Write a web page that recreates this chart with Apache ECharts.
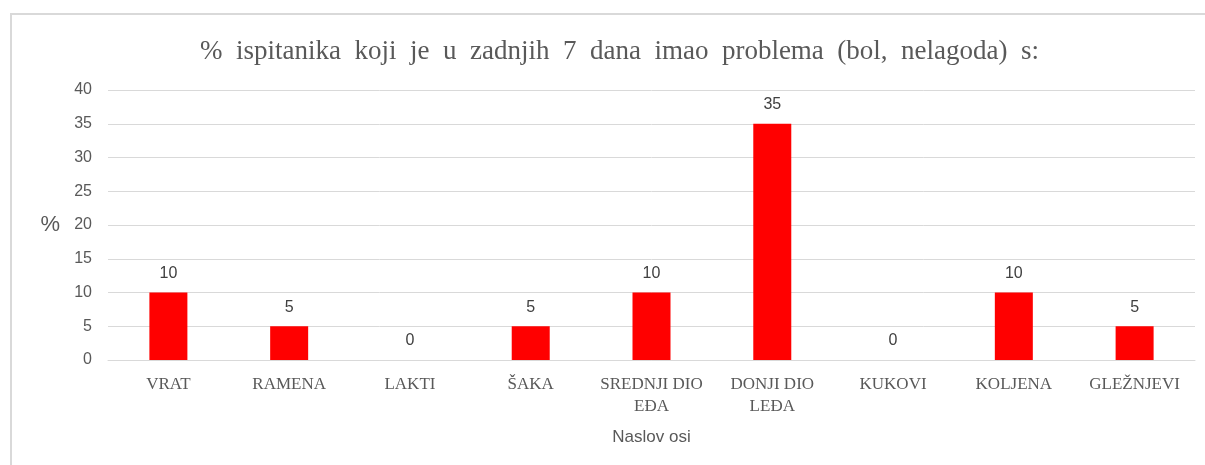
<!DOCTYPE html>
<html>
<head>
<meta charset="utf-8">
<script src="https://cdn.jsdelivr.net/npm/echarts@6/dist/echarts.min.js"></script>
<style>
  html, body { margin: 0; padding: 0; background: #fff; }
  #frame { position: absolute; left: 10px; top: 13px; width: 1200px; height: 460px;
           border: 2px solid #d9d9d9; box-sizing: border-box; }
  #chart { position: absolute; left: 0; top: 0; width: 1205px; height: 465px; }
</style>
</head>
<body>
<div id="frame"></div>
<div id="chart"></div>
<script>
const titleWords = ["%", "ispitanika", "koji", "je", "u", "zadnjih", "7", "dana", "imao", "problema", "(bol,", "nelagoda)", "s:"];
const categories = ["VRAT", "RAMENA", "LAKTI", "ŠAKA", "SREDNJI DIO\nEĐA", "DONJI DIO\nLEĐA", "KUKOVI", "KOLJENA", "GLEŽNJEVI"];
const values = [10, 5, 0, 5, 10, 35, 0, 10, 5];

const myChart = echarts.init(document.getElementById("chart"));

const option = {
  animation: false,
  title: {
    // wide word gaps like the original
    text: titleWords.join("  "),
    left: 195,
    top: 33,
    textStyle: { fontFamily: "Liberation Serif", fontWeight: "normal", fontSize: 27, color: "#595959" },
  },
  grid: { left: 108, right: 10, top: 90, bottom: 105 },
  xAxis: {
    type: "category",
    data: categories,
    name: "Naslov osi",
    nameLocation: "middle",
    nameGap: 69,
    nameTextStyle: { fontFamily: "Liberation Sans", fontSize: 17, color: "#595959" },
    axisLine: { lineStyle: { color: "#d9d9d9", width: 1 } },
    axisTick: { show: false },
    axisLabel: { fontFamily: "Liberation Serif", fontSize: 17, color: "#595959", margin: 14, lineHeight: 22, interval: 0 },
  },
  yAxis: {
    type: "value",
    min: 0,
    max: 40,
    interval: 5,
    name: "%",
    nameLocation: "middle",
    nameRotate: 0,
    nameGap: 48,
    nameTextStyle: { fontFamily: "Liberation Sans", fontSize: 22, color: "#595959" },
    axisLabel: { fontFamily: "Liberation Sans", fontSize: 16, color: "#595959", margin: 16 },
    splitLine: { lineStyle: { color: "#d9d9d9", width: 1 } },
  },
  series: [
    {
      type: "bar",
      data: values,
      barWidth: 38,
      itemStyle: { color: "#ff0000" },
      label: {
        show: true,
        position: "top",
        distance: 11,
        fontFamily: "Liberation Sans",
        fontSize: 16,
        color: "#404040",
      },
    },
  ],
};

option && myChart.setOption(option);
</script>
</body>
</html>
